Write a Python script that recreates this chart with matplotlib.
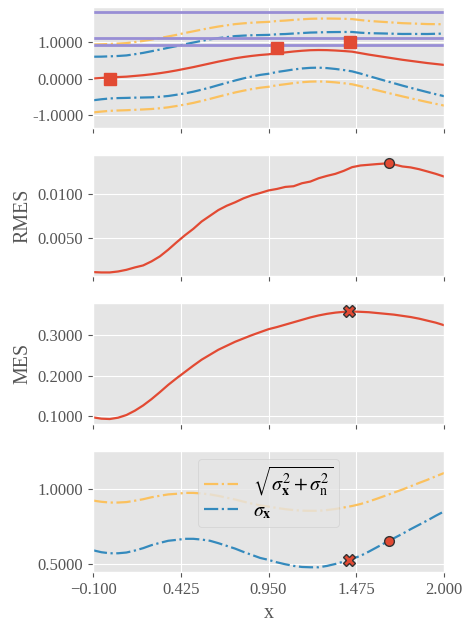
import numpy as np
import matplotlib
matplotlib.use('Agg')
import matplotlib.pyplot as plt
from matplotlib.ticker import FormatStrFormatter

plt.style.use('ggplot')
plt.rcParams['font.family'] = ['Liberation Serif', 'DejaVu Serif']
plt.rcParams['mathtext.fontset'] = 'stix'
plt.rcParams['font.size'] = 12

# sample locations
x = [-0.10, -0.05, 0.00, 0.05, 0.10, 0.15, 0.20, 0.25, 0.30, 0.35, 0.40,
     0.45, 0.50, 0.55, 0.60, 0.65, 0.70, 0.75, 0.80, 0.85, 0.90, 0.95,
     1.00, 1.05, 1.10, 1.15, 1.20, 1.25, 1.30, 1.35, 1.40, 1.45, 1.50,
     1.55, 1.60, 1.65, 1.70, 1.75, 1.80, 1.85, 1.90, 1.95, 2.00]

# posterior mean
mean = [0.000, 0.015, 0.030, 0.040, 0.050, 0.070, 0.090, 0.115, 0.145, 0.180, 0.220,
        0.265, 0.310, 0.360, 0.410, 0.460, 0.505, 0.550, 0.585, 0.615, 0.640, 0.658,
        0.690, 0.710, 0.735, 0.755, 0.770, 0.775, 0.772, 0.762, 0.748, 0.730, 0.690,
        0.650, 0.615, 0.580, 0.545, 0.510, 0.480, 0.450, 0.420, 0.395, 0.370]

# latent std
sigma_x = [0.593, 0.580, 0.573, 0.573, 0.578, 0.591, 0.607, 0.627, 0.642, 0.656, 0.662,
           0.669, 0.669, 0.664, 0.656, 0.640, 0.622, 0.604, 0.582, 0.562, 0.542, 0.529,
           0.513, 0.500, 0.489, 0.482, 0.480, 0.480, 0.489, 0.502, 0.518, 0.536, 0.556,
           0.584, 0.614, 0.644, 0.673, 0.702, 0.733, 0.762, 0.791, 0.822, 0.851]

# predictive std (latent + noise)
sigma_y = [0.923, 0.915, 0.910, 0.910, 0.913, 0.922, 0.932, 0.945, 0.955, 0.964, 0.968,
           0.974, 0.974, 0.970, 0.964, 0.954, 0.942, 0.930, 0.916, 0.903, 0.891, 0.883,
           0.874, 0.866, 0.860, 0.856, 0.855, 0.855, 0.860, 0.867, 0.877, 0.887, 0.900,
           0.917, 0.936, 0.956, 0.976, 0.996, 1.018, 1.040, 1.061, 1.084, 1.106]

# observations and reference levels
obs_x = [0.0, 1.003, 1.44]
obs_y = [0.0, 0.838, 1.0]
levels = [1.81, 1.10, 0.90]

# acquisition curves
rmes = [0.00111, 0.00107, 0.00107, 0.00118, 0.00137, 0.00164, 0.00187, 0.00233, 0.00290,
        0.00366, 0.00450, 0.00530, 0.00603, 0.00687, 0.00752, 0.00817, 0.00866, 0.00905,
        0.00950, 0.00985, 0.01011, 0.01040, 0.01057, 0.01080, 0.01088, 0.01122, 0.01141,
        0.01179, 0.01206, 0.01229, 0.01263, 0.01305, 0.01324, 0.01332, 0.01340, 0.01347,
        0.01336, 0.01313, 0.01302, 0.01282, 0.01256, 0.01229, 0.01198]
mes = [0.0959, 0.0926, 0.0917, 0.0950, 0.1017, 0.1124, 0.1256, 0.1413, 0.1587, 0.1769,
       0.1934, 0.2091, 0.2248, 0.2397, 0.2521, 0.2645, 0.2744, 0.2843, 0.2926, 0.3008,
       0.3083, 0.3157, 0.3210, 0.3270, 0.3330, 0.3390, 0.3450, 0.3500, 0.3540, 0.3570,
       0.3590, 0.3598, 0.3590, 0.3580, 0.3560, 0.3540, 0.3520, 0.3490, 0.3460, 0.3420,
       0.3370, 0.3320, 0.3256]

rmes_best = (1.672, 0.01347)
mes_best = (1.433, 0.360)
sx_at_mes = 0.527
sx_at_rmes = 0.656

red, blue, purple, yellow = '#E24A33', '#348ABD', '#988ED5', '#FBC15E'

xa = np.array(x)
m = np.array(mean)
sx = np.array(sigma_x)
sy = np.array(sigma_y)

fig, axes = plt.subplots(4, 1, sharex=True, figsize=(4.65, 6.22), dpi=100)
fig.subplots_adjust(left=0.2, right=0.955, top=0.989, bottom=0.080, hspace=0.216)
ax1, ax2, ax3, ax4 = axes

# posterior with one-sigma bands
ax1.plot(xa, m, color=red, lw=1.6)
ax1.plot(xa, m + sx, color=blue, lw=1.6, ls='-.')
ax1.plot(xa, m - sx, color=blue, lw=1.6, ls='-.')
ax1.plot(xa, m + sy, color=yellow, lw=1.6, ls='-.')
ax1.plot(xa, m - sy, color=yellow, lw=1.6, ls='-.')
for lv in levels:
    ax1.axhline(lv, color=purple, lw=2)
ax1.plot(obs_x, obs_y, 's', color=red, ms=8.5, zorder=5)
ax1.set_ylim(-1.36, 1.95)
ax1.set_yticks([-1, 0, 1])

ax2.plot(xa, rmes, color=red, lw=1.6)
ax2.plot(*rmes_best, 'o', color=red, mec='#333333', ms=7, zorder=5)
ax2.set_ylim(0.00062, 0.01446)
ax2.set_yticks([0.005, 0.01])
ax2.set_ylabel('RMES')

ax3.plot(xa, mes, color=red, lw=1.6)
ax3.plot(*mes_best, 'X', color=red, mec='#333333', ms=8, zorder=5)
ax3.set_ylim(0.0785, 0.3818)
ax3.set_yticks([0.1, 0.2, 0.3])
ax3.set_ylabel('MES')

ax4.plot(xa, sy, color=yellow, lw=1.6, ls='-.',
         label=r'$\sqrt{\sigma_\mathbf{x}^2 + \sigma_\mathrm{n}^2}$')
ax4.plot(xa, sx, color=blue, lw=1.6, ls='-.', label=r'$\sigma_\mathbf{x}$')
ax4.plot(mes_best[0], sx_at_mes, 'X', color=red, mec='#333333', ms=8, zorder=5)
ax4.plot(rmes_best[0], sx_at_rmes, 'o', color=red, mec='#333333', ms=7, zorder=5)
ax4.set_ylim(0.447, 1.255)
ax4.set_yticks([0.5, 1.0])
ax4.legend(loc='upper center', fontsize='large', handlelength=1.7,
           labelspacing=0.2, borderpad=0.3, handletextpad=0.75,
           borderaxespad=0.4)
ax4.set_xlabel('x')

for ax in axes:
    ax.yaxis.set_major_formatter(FormatStrFormatter('%.4f'))
ax4.set_xlim(-0.1, 2.0)
ax4.set_xticks(np.linspace(-0.1, 2.0, 5))

fig.savefig('out.png', dpi=100)
